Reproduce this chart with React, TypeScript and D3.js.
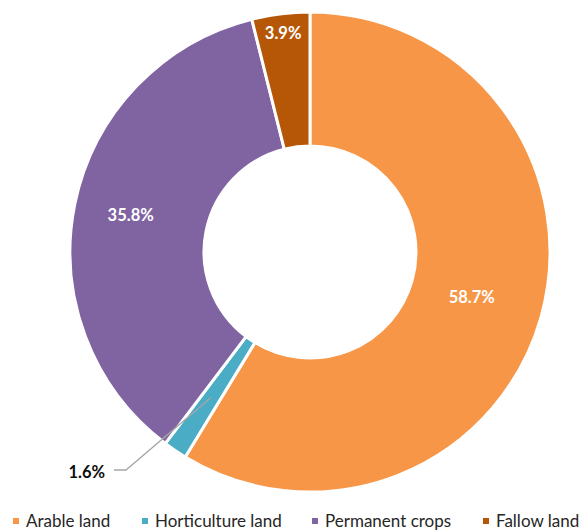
import React from "react";
import * as d3 from "d3";

const categories = ["Arable land", "Horticulture land", "Permanent crops", "Fallow land"];
const values = [58.7, 1.6, 35.8, 3.9];
const colors = ["#F79646", "#4BACC6", "#8064A2", "#B65708"];
const labels = ["58.7%", "1.6%", "35.8%", "3.9%"];

const W = 582, H = 530;
const cx = 310, cy = 252, R = 240, r0 = 106;

export default function App() {
  const pie = d3.pie<number>().sort(null).value((d) => d)(values);
  const arc = d3.arc<d3.PieArcDatum<number>>().innerRadius(r0).outerRadius(R);
  const pos = (a: number, rr: number) => [Math.sin(a) * rr, -Math.cos(a) * rr];
  const labelR = [168, 0, 183, 220];
  const legendX = [13, 142, 312, 483];
  const font = "Lato, 'Open Sans', sans-serif";
  return (
    <svg width={W} height={H} style={{ position: "absolute", left: 0, top: 0 }}>
      <g transform={`translate(${cx},${cy})`}>
        {pie.map((p, i) => (
          <path key={i} d={arc(p) || ""} fill={colors[i]} stroke="#fff" strokeWidth={3} strokeLinejoin="miter" />
        ))}
        {pie.map((p, i) => {
          const mid = (p.startAngle + p.endAngle) / 2;
          if (i === 1) {
            const [x1, y1] = pos(mid, 176);
            return (
              <g key={i}>
                <polyline points={`${x1},${y1} ${-184},${218} ${-196},${218}`} fill="none" stroke="#A6A6A6" strokeWidth={1.3} />
                <text x={-205} y={220} dy="0.35em" textAnchor="end" fontFamily={font} fontWeight={700} fontSize={16.5} fill="#0D0D0D">{labels[i]}</text>
              </g>
            );
          }
          const [x, y] = pos(mid, labelR[i]);
          return (
            <text key={i} x={x} y={y} dy="0.35em" textAnchor="middle" fontFamily={font} fontWeight={700} fontSize={16.5} fill="#fff">{labels[i]}</text>
          );
        })}
      </g>
      {categories.map((c, i) => (
        <g key={c} transform={`translate(${legendX[i]},521)`}>
          <rect x={0} y={-3} width={6} height={6} fill={colors[i]} />
          <text x={13} y={0} dy="0.35em" fontFamily={font} fontSize={17} fill="#262626">{c}</text>
        </g>
      ))}
    </svg>
  );
}
